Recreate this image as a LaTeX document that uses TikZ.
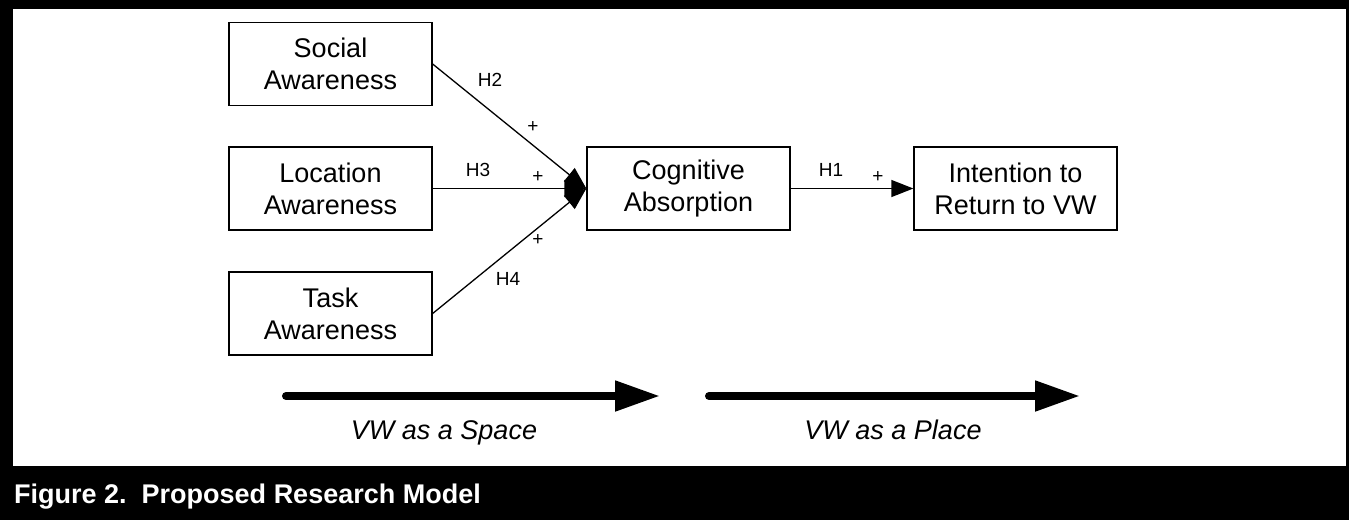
\documentclass[tikz,border=0pt]{standalone}
\usepackage{fontspec}
\setmainfont{Liberation Sans}
\usetikzlibrary{arrows.meta}

\begin{document}
\begin{tikzpicture}[x=1pt,y=-1pt,
  box/.style={draw, line width=1.3pt, minimum width=203pt, minimum height=83pt,
    align=center, inner sep=0pt, font=\fontsize{27}{32}\selectfont},
  link/.style={line width=1.3pt, -{Triangle[length=22pt,width=17pt]}},
  lbl/.style={inner sep=0pt, font=\fontsize{19}{22}\selectfont},
  phase/.style={line width=8pt, line cap=round, -{Triangle[length=45pt,width=29pt]}},
  phaselbl/.style={inner sep=0pt, anchor=base, font=\fontsize{27}{32}\selectfont\itshape}]

% page frame and caption bar
\fill[black] (0,0) rectangle (1349,520);
\fill[white] (13,9) rectangle (1346,466);
\node[anchor=base west, inner sep=0pt, text=white, font=\fontsize{27}{32}\selectfont\bfseries]
  (caption) at (14,503) {Figure 2.\ \ Proposed Research Model};

% constructs
\node[box] (social) at (330.5,64)    {Social\\Awareness};
\node[box] (loc)    at (330.5,188.5) {Location\\Awareness};
\node[box] (task)   at (330.5,313.5) {Task\\Awareness};
\node[box] (cog)    at (688.5,188.5) {Cognitive\\Absorption};
\node[box] (ret)    at (1015.5,188.5) {Intention to\\Return to VW};

% hypothesised paths
\draw[link] (social.east) -- (cog.west);
\draw[link] (loc.east) -- (cog.west);
\draw[link] (task.east) -- (cog.west);
\draw[link] (cog.east) -- (ret.west);

% path labels
\node[lbl] (h2) at (490,80)  {H2};
\node[lbl] (p2) at (533,127) {+};
\node[lbl] (h3) at (478,170) {H3};
\node[lbl] (p3) at (538,177) {+};
\node[lbl] (p4) at (538,240) {+};
\node[lbl] (h4) at (508,279) {H4};
\node[lbl] (h1) at (831,170) {H1};
\node[lbl] (p1) at (878,177) {+};

% phase arrows
\coordinate (s0) at (286,396);
\coordinate (s1) at (660,396);
\coordinate (q0) at (709,396);
\coordinate (q1) at (1080,396);
\draw[phase] (s0) -- (s1);
\draw[phase] (q0) -- (q1);
\node[phaselbl] (space) at (444,439) {VW as a Space};
\node[phaselbl] (place) at (893,439) {VW as a Place};
\end{tikzpicture}
\end{document}
